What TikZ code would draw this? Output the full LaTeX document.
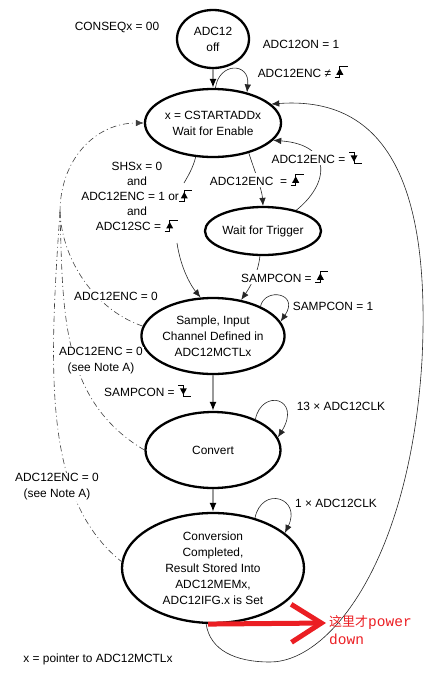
\documentclass[tikz,border=0pt]{standalone}
\usepackage{fontspec}
\setmainfont{Liberation Sans}
\newfontfamily\cjk{Noto Sans CJK SC}
\newfontfamily\monofnt{Liberation Mono}
\usetikzlibrary{arrows.meta,shapes.geometric}
\definecolor{penred}{RGB}{235,30,35}

% edge symbols
\newcommand{\edgeup}{\tikz[baseline=0pt,x=1pt,y=1pt,line width=0.8pt]{\draw (0,0)--(5,0)--(5,10.5)--(13,10.5); \fill (1.5,2.5)--(8.5,2.5)--(5,9)--cycle;}}
\newcommand{\edgedown}{\tikz[baseline=0pt,x=1pt,y=1pt,line width=0.8pt]{\draw (0,10.5)--(5,10.5)--(5,0)--(13,0); \fill (1.5,8)--(8.5,8)--(5,1.5)--cycle;}}

\begin{document}
\begin{tikzpicture}[x=1pt,y=-1pt]
    \tikzstyle{every node}=[font=\fontsize{11.9}{16}\selectfont]
    \tikzstyle{state}=[draw, ellipse, line width=2.3pt, inner sep=0pt, align=center]
    \tikzstyle{conn}=[line width=0.6pt, draw=black!85, -{Latex[length=8pt,width=6.5pt]}]
    \tikzstyle{grayconn}=[line width=1.6pt, draw=black!40, -{Latex[length=9pt,width=7pt,color=black]}]
    \tikzstyle{dashcurve}=[line width=0.6pt, draw=black!75, dash pattern=on 6pt off 3pt on 1pt off 3pt]
    \tikzstyle{onlabel}=[fill=white, inner sep=1pt]

      \useasboundingbox (0,0) rectangle (438,681);

      % states
      \node[state, minimum width=72pt, minimum height=58pt] (off) at (213,39) {ADC12\\off};
      \node[state, minimum width=136pt, minimum height=68pt] (enable) at (213,123) {x = CSTARTADDx\\Wait for Enable};
      \node[state, minimum width=116pt, minimum height=48pt] (trigger) at (263,231) {Wait for Trigger};
      \node[state, minimum width=132pt, minimum height=76pt] (sample) at (213,336) {Sample, Input\\Channel Defined in\\ADC12MCTLx};
      \node[state, minimum width=135pt, minimum height=76pt] (convert) at (213,450) {Convert};
      \node[state, minimum width=182pt, minimum height=110pt] (completed) at (213,568) {Conversion\\Completed,\\Result Stored Into\\ADC12MEMx,\\ADC12IFG.x is Set};

      \coordinate (M) at (60,212);
      \coordinate (c1) at (184,183);
      \coordinate (c2) at (177,243);
      \coordinate (b1) at (270,662);
      \coordinate (r1) at (422,360);
      \coordinate (tipred) at (326,623);

      % straight arrows
      \draw[grayconn] (off.south) -- (enable.north);
      \draw[grayconn] (sample.south) -- (convert.north);
      \draw[grayconn] (convert.south) -- (completed.north);

      % self loops
      \draw[conn] (enable.86) .. controls (219,62) and (250,62) .. (enable.42);
      \draw[conn] (sample.32) .. controls (265,287) and (300,293) .. (sample.12);
      \draw[conn] (convert.36) .. controls (262,388) and (302,398) .. (convert.11);
      \draw[conn] (completed.50) .. controls (262,485) and (302,498) .. (completed.26);

      % transitions
      \draw[conn] (enable.-40) .. controls (255,172) and (262,190) .. (trigger.north);
      \draw[conn] (trigger.32) .. controls (328,185) and (335,145) .. (enable.-16);
      \draw[conn] (trigger.-97) .. controls (258,275) and (248,290) .. (sample.52);
      \draw[line width=0.6pt, draw=black!85] (enable.-117) .. controls (193,168) and (188,176) .. (c1);
      \draw[conn] (c2) .. controls (181,270) and (192,287) .. (sample.108);

      % back to wait for enable
      \draw[line width=0.6pt, draw=black!85] (completed.263) .. controls (210,650) and (235,662) .. (b1)
         .. controls (330,662) and (410,560) .. (r1);
      \draw[conn] (r1) .. controls (430,200) and (395,95) .. (enable.18);

      % dashed returns
      \draw[dashcurve, -{Latex[length=8pt,width=6.5pt]}] (M) .. controls (60,160) and (95,123) .. (enable.180);
      \draw[dashcurve] (M) .. controls (62,260) and (95,310) .. (sample.172);
      \draw[dashcurve] (M) .. controls (63,310) and (60,400) .. (convert.west);
      \draw[dashcurve] (M) .. controls (48,380) and (45,500) .. (completed.176);

      % labels
      \node (conseq) at (117,27) {CONSEQx = 00};
      \node (adcon) at (301,44) {ADC12ON = 1};
      \node (encne) at (303,72) {ADC12ENC ≠ \edgeup};
      \node[onlabel] (encfall) at (317,158) {ADC12ENC = \edgedown};
      \node[onlabel] (encrise) at (257,180) {ADC12ENC \ = \edgeup};
      \node[align=center, font=\fontsize{11.9}{15}\selectfont] (shs) at (137,197) {SHSx = 0\\and\\ADC12ENC = 1 or\edgeup\\and\\ADC12SC = \edgeup};
      \node[onlabel] (sampup) at (285,277) {SAMPCON = \edgeup};
      \node (samp1) at (333,306) {SAMPCON = 1};
      \node[onlabel] (enczeroa) at (116,296) {ADC12ENC = 0};
      \node[onlabel, align=center] (enczerob) at (101,361) {ADC12ENC = 0\\(see Note A)};
      \node (sampdown) at (148,391) {SAMPCON = \edgedown};
      \node (clkconv) at (341,406) {13 × ADC12CLK};
      \node[onlabel, align=center] (enczeroc) at (57,487) {ADC12ENC = 0\\(see Note A)};
      \node (clkdone) at (336,503) {1 × ADC12CLK};
      \node (note) at (98,659) {x = pointer to ADC12MCTLx};

      % red remark
      \draw[penred, line width=5pt, -{Straight Barb[length=30pt,width=38pt]}] (completed.265) -- (tipred);
      \node[text=penred, anchor=north west, align=left, inner sep=0pt, font=\fontsize{13}{18}\selectfont] (pd) at (329,615)
         {{\cjk 这里才}{\monofnt\fontsize{14.5}{18}\selectfont power}\\{\monofnt\fontsize{14.5}{18}\selectfont down}};

\end{tikzpicture}
\end{document}
